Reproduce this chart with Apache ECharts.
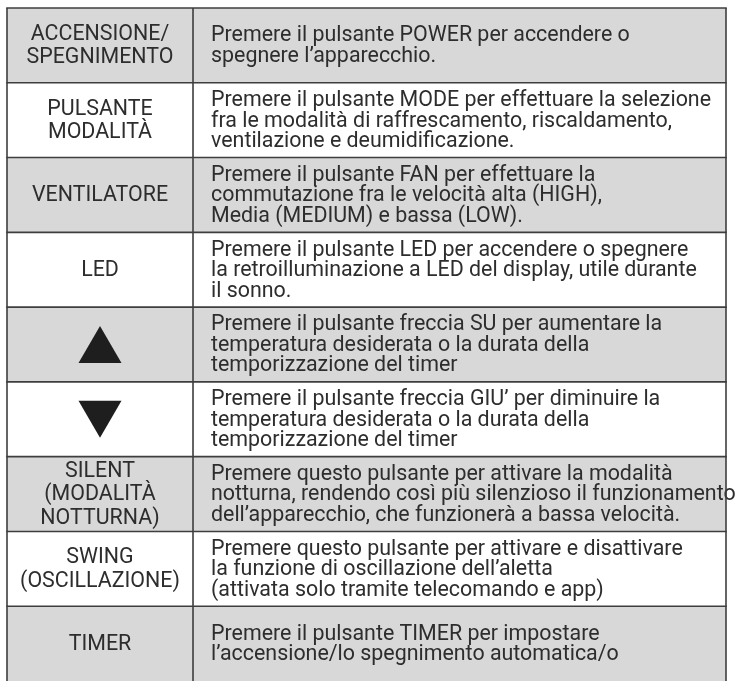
<!DOCTYPE html>
<html>
<head>
<meta charset="utf-8">
<script src="https://cdn.jsdelivr.net/npm/echarts@6/dist/echarts.min.js"></script>
<style>
html,body{margin:0;padding:0;background:#fff;}
#chart{width:735px;height:681px;}
</style>
</head>
<body>
<div id="chart"></div>
<script>
// ---- data ----
const rowLabels = [
  'ACCENSIONE/\nSPEGNIMENTO',
  'PULSANTE\nMODALITÀ',
  'VENTILATORE',
  'LED',
  '▲',
  '▼',
  'SILENT\n(MODALITÀ\nNOTTURNA)',
  'SWING\n(OSCILLAZIONE)',
  'TIMER'
];
const rowTexts = [
  'Premere il pulsante POWER per accendere o\nspegnere l’apparecchio.',
  'Premere il pulsante MODE per effettuare la selezione\nfra le modalità di raffrescamento, riscaldamento,\nventilazione e deumidificazione.',
  'Premere il pulsante FAN per effettuare la\ncommutazione fra le velocità alta (HIGH),\nMedia (MEDIUM) e bassa (LOW).',
  'Premere il pulsante LED per accendere o spegnere\nla retroilluminazione a LED del display, utile durante\nil sonno.',
  'Premere il pulsante freccia SU per aumentare la\ntemperatura desiderata o la durata della\ntemporizzazione del timer',
  'Premere il pulsante freccia GIU’ per diminuire la\ntemperatura desiderata o la durata della\ntemporizzazione del timer',
  'Premere questo pulsante per attivare la modalità\nnotturna, rendendo così più silenzioso il funzionamento\ndell’apparecchio, che funzionerà a bassa velocità.',
  'Premere questo pulsante per attivare e disattivare\nla funzione di oscillazione dell’aletta\n(attivata solo tramite telecomando e app)',
  'Premere il pulsante TIMER per impostare\nl’accensione/lo spegnimento automatica/o'
];

// ---- layout / style constants ----
const SPLIT = 0.2587;          // column divider position on the x axis (0..1)
const TEXT_PAD = 18;
const FONT = '21.4px Roboto';
const GRAY = '#d8d8d8';
const LINE = '#3e3e3e';
const LW = 1.6;
const INK = '#2d2d2d';

const chart = echarts.init(document.getElementById('chart'), null, {renderer: 'canvas'});

function renderItem(params, api) {
  const i = api.value(1);
  const tl = api.coord([0, i]);
  const br = api.coord([1, i + 1]);
  const mid = api.coord([SPLIT, i]);
  const x0 = tl[0], y0 = tl[1], x1 = br[0], y1 = br[1], xm = mid[0];
  const cy = (y0 + y1) / 2;
  const cxL = (x0 + xm) / 2;
  const children = [];
  children.push({
    type: 'rect',
    shape: {x: x0, y: y0, width: x1 - x0, height: y1 - y0},
    style: {fill: i % 2 === 0 ? GRAY : '#ffffff'}
  });
  const label = rowLabels[i];
  if (label === '▲' || label === '▼') {
    const hw = 21.5, hh = 18.5;
    const pts = label === '▲'
      ? [[cxL, cy - hh], [cxL + hw, cy + hh], [cxL - hw, cy + hh]]
      : [[cxL - hw, cy - hh], [cxL + hw, cy - hh], [cxL, cy + hh]];
    children.push({type: 'polygon', shape: {points: pts}, style: {fill: '#1e1e1e'}});
  } else {
    children.push({
      type: 'text',
      style: {
        text: label, x: cxL, y: cy + 1,
        align: 'center', verticalAlign: 'middle',
        font: FONT, lineHeight: 23.5, fill: INK
      }
    });
  }
  children.push({
    type: 'text',
    style: {
      text: rowTexts[i], x: xm + TEXT_PAD, y: cy + 1,
      align: 'left', verticalAlign: 'middle',
      font: FONT, lineHeight: 20.5, fill: INK
    }
  });
  // borders
  const ls = {stroke: LINE, lineWidth: LW};
  children.push({type: 'line', shape: {x1: x0 - LW / 2, y1: y0, x2: x1 + LW / 2, y2: y0}, style: ls});
  children.push({type: 'line', shape: {x1: x0, y1: y0, x2: x0, y2: y1}, style: ls});
  children.push({type: 'line', shape: {x1: xm, y1: y0, x2: xm, y2: y1}, style: ls});
  children.push({type: 'line', shape: {x1: x1, y1: y0, x2: x1, y2: y1}, style: ls});
  return {type: 'group', children: children};
}

chart.setOption({
  animation: false,
  backgroundColor: '#ffffff',
  grid: {left: 7, top: 8, width: 719, height: 677},
  xAxis: {type: 'value', min: 0, max: 1, show: false},
  yAxis: {type: 'value', min: 0, max: 9, inverse: true, show: false},
  series: [{
    type: 'custom',
    renderItem: renderItem,
    clip: false,
    data: rowLabels.map((_, i) => [0, i])
  }]
});
</script>
</body>
</html>
